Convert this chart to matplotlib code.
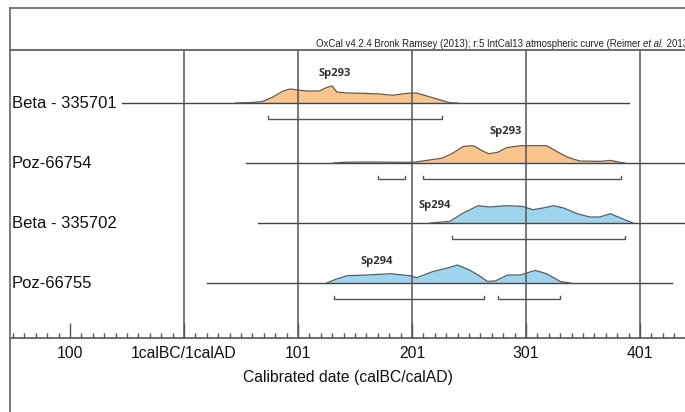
import matplotlib
matplotlib.use("Agg")
import matplotlib.pyplot as plt
from matplotlib.lines import Line2D
import numpy as np

# ---------------- data ----------------
samples = ["Beta - 335701", "Poz-66754", "Beta - 335702", "Poz-66755"]
groups = ["Sp293", "Sp293", "Sp294", "Sp294"]
group_label_x = [132, 282, 220, 169]

tick_years = [-100, 0, 100, 200, 300, 400]
tick_labels = ["100", "1calBC/1calAD", "101", "201", "301", "401"]

# calendar years (negative = BC), relative probability
years_335701 = [45, 60, 69, 78, 87, 93, 100, 108, 119, 125, 130, 134, 143, 157, 172, 183, 196, 204, 213, 222, 233, 240]
prob_335701 = [0, 0.5, 1.5, 6, 12, 14, 13, 12, 12, 15.5, 17, 11, 10, 9.7, 9, 7.7, 9.7, 10, 7, 4, 0.3, 0]

years_66754 = [131, 140, 161, 190, 201, 213, 227, 236, 245, 254, 261, 267, 275, 283, 295, 318, 327, 336, 347, 365, 374, 383, 387]
prob_66754 = [0, 0.7, 1, 0.7, 0.7, 2.6, 5, 10, 16.6, 17.3, 12.6, 9.3, 10.6, 15.3, 17.3, 17.3, 11.6, 6, 2, 1.6, 2.6, 0.6, 0]

years_335702 = [216, 233, 245, 258, 268, 283, 297, 306, 315, 324, 333, 345, 356, 365, 374, 383, 394]
prob_335702 = [0, 1.6, 10, 17.3, 16, 17.3, 16.6, 13.3, 15, 17.3, 15, 9.3, 6, 6, 9.3, 5, 0]

years_66755 = [125, 134, 143, 161, 181, 198, 204, 218, 231, 240, 251, 260, 266, 273, 284, 295, 308, 318, 330, 339]
prob_66755 = [0, 4, 7.3, 8, 9.3, 7.3, 5.3, 11.3, 15, 18, 12.6, 6.6, 1.6, 2, 8, 8, 12.6, 9.3, 1.6, 0]

dist_years = [years_335701, years_66754, years_335702, years_66755]
dist_prob = [prob_335701, prob_66754, prob_335702, prob_66755]

# extent of each sample's line (years)
line_start = [-54, 54, 65, 20]
line_end = [390, 440, 440, 428]

# 95.4% ranges (years)
ranges = [
    [(74, 226)],
    [(170, 194), (210, 383)],
    [(235, 387)],
    [(132, 263), (275, 330)],
]

# ---------------- style ----------------
fills = ["#FAC58C", "#FAC58C", "#9ED5EE", "#9ED5EE"]
label_offset = [30, 32, 18, 22]
W, H = 685, 412
fig = plt.figure(figsize=(W / 100, H / 100), dpi=100)
fig.patch.set_facecolor("white")

ax_left, ax_right, ax_top, ax_bot = 10, 685, 50, 338
ax = fig.add_axes([ax_left / W, 1 - ax_bot / H, (ax_right - ax_left) / W, (ax_bot - ax_top) / H])
ppy = 1.14  # pixels per year
x0 = 184
ax.set_xlim((ax_left - x0) / ppy, (ax_right - x0) / ppy)
ax.set_ylim(ax_bot, ax_top)  # rows in pixel units

row_y = [103, 163, 223, 283]

for s in ["left", "right"]:
    ax.spines[s].set_visible(False)
ax.spines["top"].set_color("#555555")
ax.spines["top"].set_linewidth(1.2)
ax.spines["bottom"].set_color("#555555")
ax.spines["bottom"].set_linewidth(1.2)

# grid lines
for t in tick_years[1:]:
    ax.axvline(t, color="#555555", lw=1.1, zorder=3)

ax.set_yticks([])
ax.set_xticks(tick_years)
ax.set_xticklabels(tick_labels, fontsize=11.3, family="Liberation Sans", color="#111111")
ax.set_xticks(np.arange(-150, 440, 10), minor=True)
ax.tick_params(axis="x", which="major", direction="in", length=11, width=1, color="#555555", pad=6)
ax.tick_params(axis="x", which="minor", direction="in", length=3.5, width=1, color="#555555")
ax.set_xlabel("Calibrated date (calBC/calAD)", fontsize=11.3, family="Liberation Sans",
              color="#111111", labelpad=6)

for i, name in enumerate(samples):
    y = row_y[i]
    ax.plot([line_start[i], line_end[i]], [y, y], color="#444444", lw=1.0, zorder=2)
    yr = np.array(dist_years[i], float)
    pr = np.array(dist_prob[i], float)
    ax.fill_between(yr, y, y - pr, color=fills[i], lw=0, zorder=1)
    ax.plot(yr, y - pr, color="#5a5a5a", lw=0.9, zorder=2)
    for a, b in ranges[i]:
        by = y + 16
        ax.plot([a, a, b, b], [by - 3, by, by, by - 3], color="#555555", lw=1.0, zorder=2)
    ax.text(group_label_x[i], y - label_offset[i], groups[i], fontsize=8, family="Open Sans",
            fontweight="bold", color="#333333", ha="center", va="center")
    ax.text(0.003, y, name, transform=ax.get_yaxis_transform(), fontsize=12,
            family="Liberation Sans", color="#111111", ha="left", va="center", zorder=4,
            bbox=dict(facecolor="white", edgecolor="none", pad=1))

# outer frame lines
fig.add_artist(Line2D([10 / W, 10 / W], [0, 1 - 8 / H], color="#666666", lw=1.2))
fig.add_artist(Line2D([10 / W, 1], [1 - 8 / H, 1 - 8 / H], color="#666666", lw=1.2))

# OxCal caption
fig.canvas.draw()
r = fig.canvas.get_renderer()
cy = 1 - 44 / H
fs = 6.9
t1 = fig.text(316 / W, cy, "OxCal v4.2.4 Bronk Ramsey (2013); r:5 IntCal13 atmospheric curve (Reimer ",
              fontsize=fs, family="Liberation Sans", color="#222222", va="center", ha="left")
bb = t1.get_window_extent(r)
t2 = fig.text(bb.x1 / W, cy, "et al.", fontsize=fs, family="Liberation Sans", style="italic",
              color="#222222", va="center", ha="left")
bb2 = t2.get_window_extent(r)
fig.text(bb2.x1 / W, cy, " 2013)", fontsize=fs, family="Liberation Sans",
         color="#222222", va="center", ha="left")

fig.savefig("out.png", dpi=100)
